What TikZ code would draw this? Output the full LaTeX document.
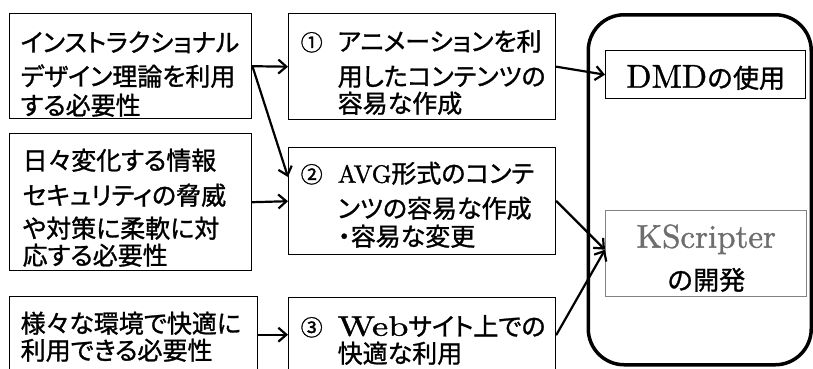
\documentclass[tikz,border=0pt]{standalone}
\usepackage{fontspec}
\usepackage{graphicx}
\usetikzlibrary{arrows.meta}
\newfontfamily\jp[RawFeature=+palt, FakeBold=1.2]{Noto Sans CJK JP}
\newfontfamily\jpn[FakeBold=1.2]{Noto Sans CJK JP}
\newfontfamily\lat[Extension=.otf, FakeBold=1.2]{lmroman10-regular}
\definecolor{ktext}{RGB}{110,110,110}
\definecolor{kline}{RGB}{130,130,130}
% left-aligned box text: width, height, left margin, first baseline, text
\newcommand\lbox[5]{\parbox[c][#2][t]{#1}{\raggedright\leftskip=#3\relax\jp\fontsize{25}{28}\selectfont\rule{0pt}{#4}#5}}
% centred box text: width, height, first baseline, text
\newcommand\cbox[4]{\parbox[c][#2][t]{#1}{\centering\rule{0pt}{#3}#4}}
\newcommand\cnum[1]{\hspace*{-37pt}\makebox[37pt][l]{\jpn\fontsize{22}{28}\selectfont #1}}
\newcommand\latn[2]{{\lat\fontsize{#1}{28}\selectfont #2}}
\begin{document}
\begin{tikzpicture}[x=1pt,y=-1pt,
  box/.style={draw=black, line width=1.4pt, inner sep=0pt, anchor=north west},
  arr/.style={-{Straight Barb[length=8pt,width=14pt,line width=2.2pt]}, line width=2.2pt, line cap=round}]
\clip (0,0) rectangle (813,368);
% left column
\node[box] (A) at (9,13) {\lbox{242pt}{105pt}{11pt}{38pt}{インストラクショナル\\[6pt]デザイン理論を利用\\[1pt]する必要性}};
\node[box] (B) at (9,133) {\lbox{242pt}{137pt}{13pt}{36pt}{日々変化する情報\\[7pt]セキュリティの脅威\\[5pt]や対策に柔軟に対\\[-1pt]応する必要性}};
\node[box] (C) at (9,296) {\lbox{248pt}{76pt}{11pt}{36pt}{様々な環境で快適に\\[-1pt]利用できる必要性}};
% middle column
\node[box] (n1) at (288,13) {\lbox{267pt}{106pt}{49pt}{37pt}{\cnum{①}アニメーションを利\\[7pt]用したコンテンツの\\[-1pt]容易な作成}};
\node[box] (n2) at (288,147) {\lbox{267pt}{107pt}{49pt}{35pt}{\cnum{②}\latn{25}{AVG}形式のコンテ\\[7pt]ンツの容易な作成\\\hspace*{-6pt}{\jpn ・}\hspace{-6pt}容易な変更}};
\node[box] (n3) at (288,297) {\lbox{267pt}{74pt}{49pt}{38pt}{\cnum{③}\latn{28}{\scalebox{1.3}[1]{Web}}サイト上での\\[-1pt]快適な利用}};
% right group
\node[draw=black, line width=3.5pt, rounded corners=36pt, inner sep=0pt, anchor=north west,
  minimum width=223pt, minimum height=350pt] (grp) at (586.5,13) {};
\node[box] (dmd) at (605,50) {\cbox{200pt}{48pt}{37pt}{\latn{33}{DMD}{\jpn\fontsize{26}{30}\selectfont の使用}}};
\node[box, draw=kline] (ks) at (605,210) {\cbox{201pt}{86pt}{37pt}{\fontsize{26}{42}\selectfont{\lat\fontsize{33}{42}\selectfont\color{ktext}KScripter}\\{\jpn の開発}}};
% connectors
\draw[arr] (A.east) -- (n1.west);
\draw[arr] (A.east) -- ([yshift=-30pt]n2.north west);
\draw[arr] (B.east) -- (n2.west);
\draw[arr] (C.east) -- (n3.west);
\draw[arr] (n1.east) -- (dmd.west);
\draw[arr] (n2.east) -- ([yshift=4pt]ks.west);
\draw[arr] (n3.east) -- ([yshift=4pt]ks.west);
\end{tikzpicture}
\end{document}
